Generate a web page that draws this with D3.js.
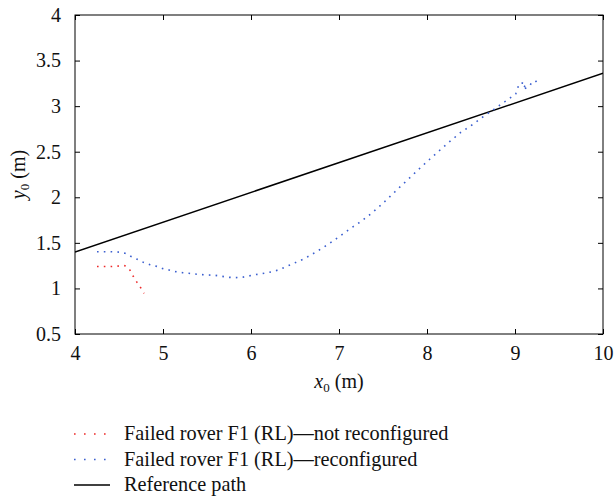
<!DOCTYPE html>
<html>
<head>
<meta charset="utf-8">
<script src="https://cdn.jsdelivr.net/npm/d3@7/dist/d3.min.js"></script>
<style>
  html, body { margin: 0; padding: 0; background: #fff; }
  svg text { font-family: "Liberation Serif", "Times New Roman", serif !important; fill: #111; }
</style>
</head>
<body>
<svg id="chart" width="615" height="499"></svg>
<script>
// Trajectories (x0, y0 in metres)
const notReconfigured = [
  [4.25, 1.24], [4.40, 1.24], [4.565, 1.25], [4.625, 1.20],
  [4.66, 1.136], [4.70, 1.074], [4.746, 1.008], [4.785, 0.945]
];
const reconfigured = [
  [4.25, 1.403], [4.40, 1.403], [4.50, 1.398], [4.57, 1.385], [4.633, 1.352],
  [4.70, 1.323], [4.776, 1.287], [4.852, 1.260], [4.928, 1.242], [5.00, 1.217],
  [5.068, 1.202], [5.144, 1.184], [5.22, 1.173], [5.295, 1.166], [5.367, 1.158],
  [5.443, 1.151], [5.52, 1.147], [5.594, 1.144], [5.67, 1.133], [5.747, 1.122],
  [5.82, 1.118], [5.90, 1.122], [5.97, 1.136], [6.05, 1.151], [6.125, 1.162],
  [6.26, 1.187], [6.337, 1.213], [6.606, 1.326], [6.739, 1.40], [6.871, 1.480],
  [6.996, 1.564], [7.117, 1.649], [7.246, 1.732], [7.364, 1.820], [7.477, 1.915],
  [7.59, 2.018], [7.70, 2.12], [7.81, 2.219], [7.92, 2.32], [8.034, 2.42],
  [8.148, 2.519], [8.26, 2.614], [8.38, 2.709], [8.51, 2.793], [8.63, 2.878],
  [8.75, 2.958], [8.88, 3.046], [9.008, 3.133], [9.04, 3.224], [9.065, 3.257],
  [9.125, 3.246], [9.09, 3.18], [9.17, 3.224], [9.19, 3.265], [9.23, 3.265],
  [9.27, 3.295]
];
const referencePath = [[4, 1.40], [10, 3.36]];

const xTicks = [4, 5, 6, 7, 8, 9, 10];
const yTicks = [0.5, 1, 1.5, 2, 2.5, 3, 3.5, 4];
const legendLabels = [
  "Failed rover F1 (RL)\u2014not reconfigured",
  "Failed rover F1 (RL)\u2014reconfigured",
  "Reference path"
];

const RED = "#ee2a2a", BLUE = "#3b5fcf";
const SERIF = "'Liberation Serif', 'Times New Roman', serif";

const svg = d3.select("#chart");
const plotLeft = 75, plotRight = 603, plotTop = 15, plotBottom = 334;

const x = d3.scaleLinear().domain([4, 10]).range([plotLeft, plotRight]);
const y = d3.scaleLinear().domain([0.5, 4]).range([plotBottom, plotTop]);

const line = d3.line().x(d => x(d[0])).y(d => y(d[1]));

// Data lines (clipped to the axes box)
svg.append("clipPath").attr("id", "plotClip")
  .append("rect").attr("x", plotLeft).attr("y", plotTop)
  .attr("width", plotRight - plotLeft).attr("height", plotBottom - plotTop);

const plot = svg.append("g").attr("clip-path", "url(#plotClip)");

plot.append("path").datum(referencePath)
  .attr("d", line).attr("fill", "none")
  .attr("stroke", "#000").attr("stroke-width", 1.5);

plot.append("path").datum(reconfigured)
  .attr("d", line).attr("fill", "none")
  .attr("stroke", BLUE).attr("stroke-width", 1.6)
  .attr("stroke-dasharray", "1.6 5.2");

plot.append("path").datum(notReconfigured)
  .attr("d", line).attr("fill", "none")
  .attr("stroke", RED).attr("stroke-width", 1.6)
  .attr("stroke-dasharray", "1.6 5.2");

// Axes: ticks point inward and are mirrored on opposite sides
const tickLen = 5;
const fontSize = 20;

const styleLabels = g => g.selectAll("text")
  .style("font-family", SERIF).style("font-size", fontSize + "px").attr("fill", "#111");

svg.append("g").attr("transform", `translate(0,${plotBottom})`)
  .call(d3.axisBottom(x).tickValues(xTicks).tickFormat(d3.format("d"))
    .tickSizeInner(-tickLen).tickSizeOuter(0).tickPadding(12))
  .call(g => g.select(".domain").remove())
  .call(styleLabels);

svg.append("g").attr("transform", `translate(0,${plotTop})`)
  .call(d3.axisTop(x).tickValues(xTicks).tickFormat("")
    .tickSizeInner(-tickLen).tickSizeOuter(0))
  .call(g => g.select(".domain").remove());

svg.append("g").attr("transform", `translate(${plotLeft},0)`)
  .call(d3.axisLeft(y).tickValues(yTicks).tickFormat(d3.format("~g"))
    .tickSizeInner(-tickLen).tickSizeOuter(0).tickPadding(14))
  .call(g => g.select(".domain").remove())
  .call(styleLabels);

svg.append("g").attr("transform", `translate(${plotRight},0)`)
  .call(d3.axisRight(y).tickValues(yTicks).tickFormat("")
    .tickSizeInner(-tickLen).tickSizeOuter(0))
  .call(g => g.select(".domain").remove());

svg.selectAll(".tick line").attr("stroke", "#000").attr("stroke-width", 1);

svg.append("rect").attr("x", plotLeft).attr("y", plotTop)
  .attr("width", plotRight - plotLeft).attr("height", plotBottom - plotTop)
  .attr("fill", "none").attr("stroke", "#000").attr("stroke-width", 1);

// Axis titles
const xt = svg.append("text").attr("x", (plotLeft + plotRight) / 2).attr("y", 388)
  .attr("text-anchor", "middle").style("font-size", fontSize + "px");
xt.append("tspan").attr("font-style", "italic").text("x");
xt.append("tspan").style("font-size", "13px").attr("dy", 4).text("0");
xt.append("tspan").attr("dy", -4).text(" (m)");

const yt = svg.append("text")
  .attr("transform", `translate(25,${(plotTop + plotBottom) / 2}) rotate(-90)`)
  .attr("text-anchor", "middle").style("font-size", fontSize + "px");
yt.append("tspan").attr("font-style", "italic").text("y");
yt.append("tspan").style("font-size", "13px").attr("dy", 4).text("0");
yt.append("tspan").attr("dy", -4).text(" (m)");

// Legend
const legendStyles = [
  { stroke: RED, dash: "1.6 8.4" },
  { stroke: BLUE, dash: "1.6 8.4" },
  { stroke: "#000", dash: null }
];
const legend = svg.append("g");
legendLabels.forEach((label, i) => {
  const cy = 434 + i * 25.5;
  const s = legendStyles[i];
  legend.append("line")
    .attr("x1", 74).attr("x2", 110).attr("y1", cy).attr("y2", cy)
    .attr("stroke", s.stroke).attr("stroke-width", s.dash ? 1.6 : 1.5)
    .attr("stroke-dasharray", s.dash);
  legend.append("text").attr("x", 124).attr("y", cy + 6)
    .style("font-size", "20.3px").text(label);
});
</script>
</body>
</html>
